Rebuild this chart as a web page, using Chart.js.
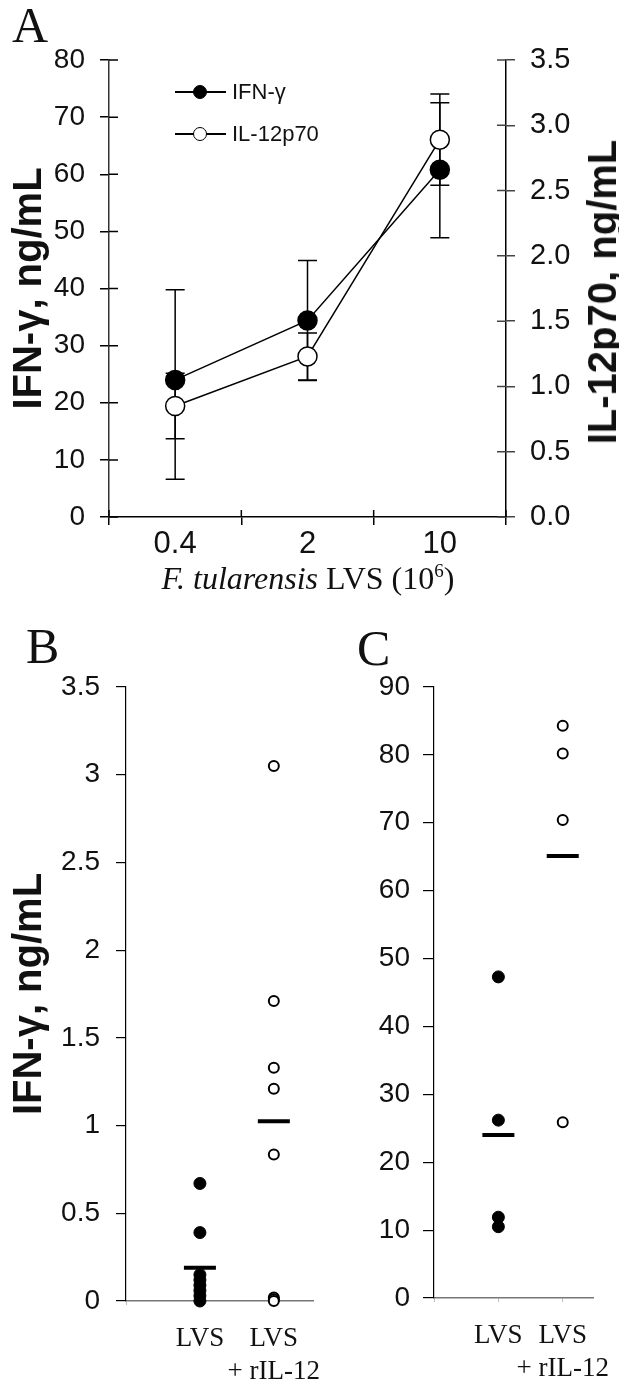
<!DOCTYPE html>
<html><head><meta charset="utf-8">
<script src="https://cdn.jsdelivr.net/npm/chart.js@4.4.1/dist/chart.umd.min.js"></script>
<style>
html,body{margin:0;padding:0;background:#fff;}
body{width:619px;height:1385px;position:relative;overflow:hidden;font-family:"Liberation Sans",Arial,sans-serif;color:#111;}
.abs{position:absolute;}
canvas{display:block;}
.serif{font-family:"Liberation Serif","Times New Roman",serif;}
.letter{font-size:50px;line-height:1;white-space:nowrap;}
.leg{position:absolute;height:22px;font-size:22px;line-height:22px;white-space:nowrap;}
.legline{position:absolute;left:0;top:10px;width:51px;height:1.5px;background:#000;}
.legdot{position:absolute;left:18px;top:4px;width:14px;height:14px;border-radius:50%;box-sizing:border-box;border:1.5px solid #000;}
.legtxt{position:absolute;left:57px;top:0;}
</style></head><body>
<div class="abs" style="left:0;top:0;"><canvas id="cA" width="619" height="600"></canvas></div>
<div class="abs" style="left:0;top:620px;"><canvas id="cB" width="350" height="765"></canvas></div>
<div class="abs" style="left:330px;top:620px;"><canvas id="cC" width="289" height="765"></canvas></div>

<div class="abs serif letter" style="left:12px;top:0px;">A</div>
<div class="abs serif letter" style="left:26px;top:621px;">B</div>
<div class="abs serif letter" style="left:357px;top:623px;">C</div>

<div class="abs serif" style="left:0;width:616px;top:562px;text-align:center;font-size:32px;line-height:32px;white-space:nowrap;"><i>F. tularensis</i> LVS (10<sup style="font-size:19px;line-height:0;">6</sup>)</div>

<div class="abs" style="left:602px;top:292px;transform:translate(-50%,-50%) rotate(-90deg);font-size:40px;font-weight:bold;white-space:nowrap;line-height:1;">IL-12p70, ng/mL</div>

<div class="leg" style="left:175px;top:81px;"><div class="legline"></div><div class="legdot" style="background:#000;"></div><div class="legtxt">IFN-γ</div></div>
<div class="leg" style="left:175px;top:123px;"><div class="legline"></div><div class="legdot" style="background:#fff;"></div><div class="legtxt">IL-12p70</div></div>

<script>
// ---------- Panel A data ----------
const doseLabels = ['0.4', '2', '10'];
const ifnMean = [24.0, 34.4, 60.8];
const ifnLow  = [6.6, 23.9, 48.9];
const ifnHigh = [39.8, 44.9, 72.5];
const il12Mean = [0.85, 1.23, 2.89];
const il12Low  = [0.60, 1.05, 2.54];
const il12High = [1.10, 1.41, 3.24];

// ---------- Panel B / C data ----------
const groupLabels = ['LVS', ['LVS', '+ rIL-12']];
const bLvs      = [0.67, 0.39, 0.15, 0.12, 0.09, 0.06, 0.03, 0.00];
const bLvsIl12  = [3.05, 1.71, 1.33, 1.21, 0.835, 0.02, 0.01, 0.00];
const bMeans    = [0.19, 1.025];
const cLvs      = [47.3, 26.2, 11.9, 10.5];
const cLvsIl12  = [84.3, 80.2, 70.4, 25.9];
const cMeans    = [24.0, 65.1];

const SANS = '"Liberation Sans", Arial, sans-serif';
const SERIF = '"Liberation Serif", "Times New Roman", serif';
Chart.defaults.font.family = SANS;
Chart.defaults.color = '#111';

function fix(w, h) {
  return function (scale) {
    if (w != null) scale.width = w;
    if (h != null) scale.height = h;
    scale.paddingLeft = 0; scale.paddingRight = 0;
    scale.paddingTop = 0; scale.paddingBottom = 0;
  };
}

const errorBars = {
  id: 'errorBars',
  beforeDatasetsDraw(chart) {
    const ctx = chart.ctx, xs = chart.scales.x;
    chart.data.datasets.forEach(ds => {
      if (!ds.errLow) return;
      const ys = chart.scales[ds.yAxisID];
      ctx.save();
      ctx.strokeStyle = '#000'; ctx.lineWidth = 1.5;
      ds.data.forEach((v, i) => {
        const x = xs.getPixelForValue(i);
        const yl = ys.getPixelForValue(ds.errLow[i]);
        const yh = ys.getPixelForValue(ds.errHigh[i]);
        ctx.beginPath();
        ctx.moveTo(x, yl); ctx.lineTo(x, yh);
        ctx.moveTo(x - 9.5, yl); ctx.lineTo(x + 9.5, yl);
        ctx.moveTo(x - 9.5, yh); ctx.lineTo(x + 9.5, yh);
        ctx.stroke();
      });
      ctx.restore();
    });
  }
};

const innerTicks = {
  id: 'innerTicks',
  afterDraw(chart) {
    const ctx = chart.ctx, a = chart.chartArea;
    const y = chart.scales.y, y2 = chart.scales.y2, x = chart.scales.x;
    ctx.save();
    ctx.lineWidth = 1.5;
    ctx.strokeStyle = '#000';
    ctx.beginPath();
    y.ticks.forEach(t => { const p = y.getPixelForValue(t.value); ctx.moveTo(a.left, p); ctx.lineTo(a.left + 9, p); });
    ctx.stroke();
    ctx.strokeStyle = '#444';
    ctx.beginPath();
    y2.ticks.forEach(t => { const p = y2.getPixelForValue(t.value); ctx.moveTo(a.right - 9, p); ctx.lineTo(a.right, p); });
    ctx.stroke();
    ctx.strokeStyle = '#000';
    ctx.beginPath();
    for (let i = 0; i <= doseLabels.length; i++) {
      const p = x.getPixelForValue(i - 0.5);
      ctx.moveTo(p, a.bottom); ctx.lineTo(p, a.bottom - 7);
    }
    ctx.stroke();
    ctx.restore();
  }
};

new Chart(document.getElementById('cA'), {
  type: 'line',
  data: {
    labels: doseLabels,
    datasets: [
      { label: 'IFN-γ', data: ifnMean, yAxisID: 'y', errLow: ifnLow, errHigh: ifnHigh,
        borderColor: '#000', borderWidth: 1.5, tension: 0,
        pointRadius: 9.5, pointBackgroundColor: '#000', pointBorderColor: '#000', pointBorderWidth: 1.5 },
      { label: 'IL-12p70', data: il12Mean, yAxisID: 'y2', errLow: il12Low, errHigh: il12High,
        borderColor: '#000', borderWidth: 1.5, tension: 0,
        pointRadius: 9.5, pointBackgroundColor: '#fff', pointBorderColor: '#000', pointBorderWidth: 1.5 }
    ]
  },
  options: {
    responsive: false, animation: false, devicePixelRatio: 1,
    layout: { padding: { top: 60, left: 0, right: 0, bottom: 0 } },
    plugins: { legend: { display: false }, tooltip: { enabled: false } },
    scales: {
      x: {
        type: 'category', offset: true,
        grid: { offset: true, drawOnChartArea: false, tickLength: 8, color: '#000', lineWidth: 1.5 },
        border: { color: '#000', width: 1.5 },
        ticks: { font: { size: 31 }, padding: 1, color: '#111', maxRotation: 0 },
        afterFit: fix(null, 83)
      },
      y: {
        position: 'left', min: 0, max: 80,
        ticks: { stepSize: 10, font: { size: 28 }, padding: 15, color: '#111' },
        grid: { drawOnChartArea: false, tickLength: 9, color: '#000', lineWidth: 1.5 },
        border: { color: '#333', width: 1.5 },
        title: { display: true, text: 'IFN-γ, ng/mL', color: '#111', font: { size: 40, weight: 'bold' }, padding: { top: 6, bottom: 0 } },
        afterFit: fix(109, null)
      },
      y2: {
        position: 'right', min: 0, max: 3.5,
        ticks: { stepSize: 0.5, font: { size: 29 }, padding: 15, color: '#111', callback: v => Number(v).toFixed(1) },
        grid: { drawOnChartArea: false, tickLength: 9, color: '#444', lineWidth: 1.5 },
        border: { color: '#000', width: 1.5 },
        afterFit: fix(113, null)
      }
    }
  },
  plugins: [errorBars, innerTicks]
});

function dotChart(id, lvs, lvsIl12, means, cfg) {
  return new Chart(document.getElementById(id), {
    type: 'scatter',
    data: {
      datasets: [
        { label: 'LVS', data: lvs.map(v => ({ x: 1, y: v })), clip: false,
          pointRadius: 6, pointBackgroundColor: '#000', pointBorderColor: '#000', pointBorderWidth: 1 },
        { label: 'LVS + rIL-12', data: lvsIl12.map(v => ({ x: 2, y: v })), clip: false,
          pointRadius: 5, pointBackgroundColor: '#fff', pointBorderColor: '#000', pointBorderWidth: 2 },
        { label: 'mean', data: means.map((v, i) => ({ x: i + 1, y: v })), clip: false,
          pointStyle: 'line', pointRadius: 16, pointBorderWidth: 4, pointBorderColor: '#000', pointBackgroundColor: '#000' }
      ]
    },
    options: {
      responsive: false, animation: false, devicePixelRatio: 1,
      layout: { padding: { top: cfg.padTop, left: 0, right: cfg.padRight, bottom: 0 } },
      plugins: { legend: { display: false }, tooltip: { enabled: false } },
      scales: {
        x: {
          type: 'linear', min: 0, max: cfg.xMax,
          afterBuildTicks: s => { s.ticks = [{ value: 0 }, { value: 1 }, { value: 2 }]; },
          ticks: { font: { size: 27, family: SERIF }, padding: 18, color: '#111',
                   maxRotation: 0, minRotation: 0, autoSkip: false,
                   callback: v => v === 1 ? groupLabels[0] : (v === 2 ? groupLabels[1] : '') },
          grid: { drawOnChartArea: false, tickLength: 4, color: '#bbb', lineWidth: 1 },
          border: { color: '#777', width: 1.5 },
          afterFit: fix(null, cfg.xHeight)
        },
        y: {
          position: 'left', min: 0, max: cfg.yMax,
          ticks: { stepSize: cfg.yStep, font: { size: 28 }, padding: cfg.tickPad, color: '#111',
                   callback: v => String(Number(v)) },
          grid: { drawOnChartArea: false, tickLength: cfg.tickLen, color: '#000', lineWidth: 1.2 },
          border: { color: '#000', width: 1.2 },
          title: cfg.title ? { display: true, text: cfg.title, color: '#111', font: { size: 40, weight: 'bold' }, padding: { top: 6, bottom: 0 } } : { display: false },
          afterFit: fix(cfg.yWidth, null)
        }
      }
    }
  });
}

dotChart('cB', bLvs, bLvsIl12, bMeans, {
  padTop: 67, padRight: 37, xMax: 2.53, xHeight: 84, yMax: 3.5, yStep: 0.5,
  tickPad: 16, tickLen: 10, yWidth: 126, title: 'IFN-γ, ng/mL'
});
dotChart('cC', cLvs, cLvsIl12, cMeans, {
  padTop: 67, padRight: 26, xMax: 2.47, xHeight: 87, yMax: 90, yStep: 10,
  tickPad: 13, tickLen: 11, yWidth: 104, title: null
});
</script>
</body></html>
